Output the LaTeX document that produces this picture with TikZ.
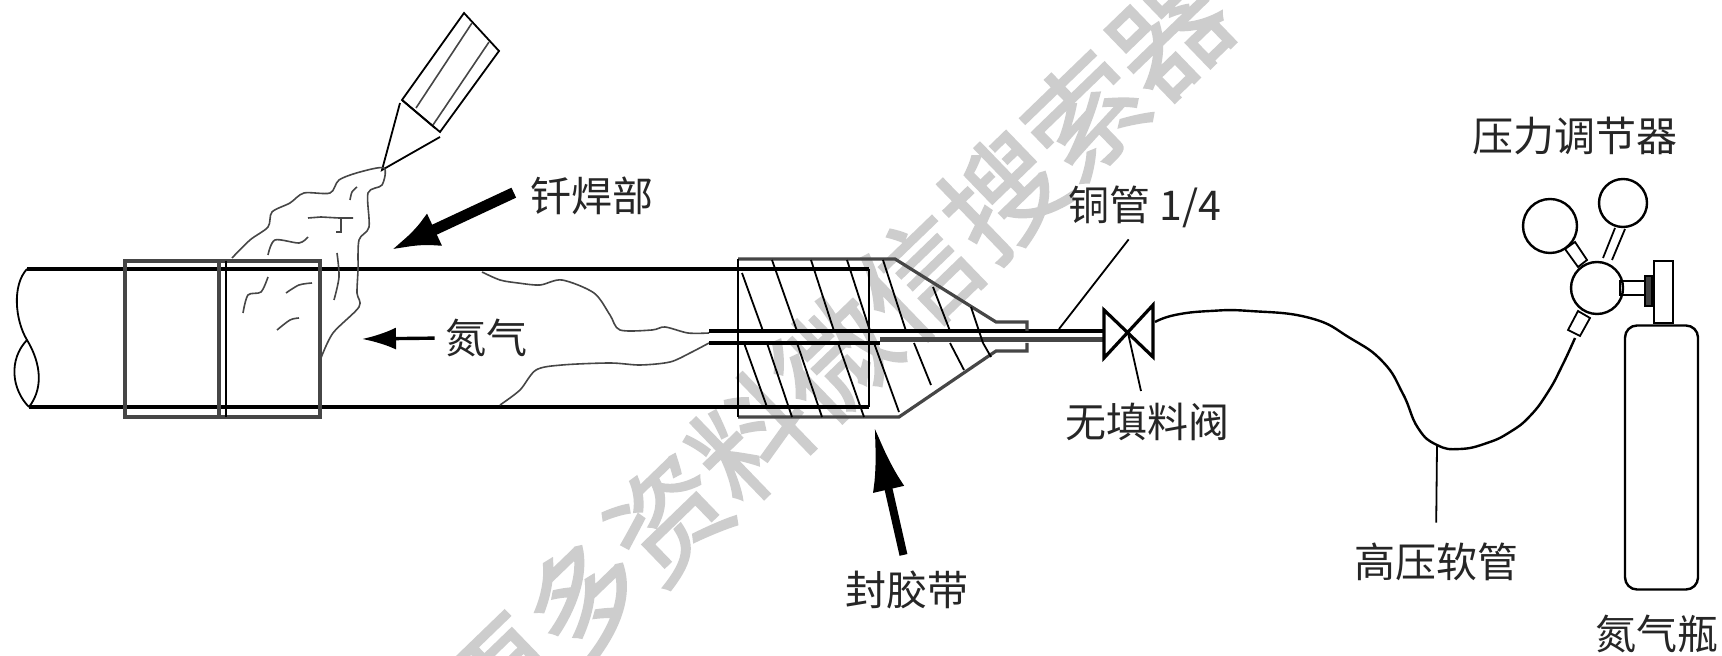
\documentclass[tikz,border=0pt]{standalone}
\usepackage{xcolor}
\usepackage{fontspec}
\usepackage{tikz}
\usetikzlibrary{arrows.meta}
\newfontfamily\cjk{Noto Sans CJK SC}
\newfontfamily\cjkheavy[FakeBold=1.6]{Noto Sans CJK SC}
\definecolor{markgray}{RGB}{205,205,205}
\definecolor{inkgray}{RGB}{70,70,70}
\tikzset{
  pipeline/.style={draw, line width=1.6pt, black},
  sleeveline/.style={draw, line width=1.6pt, inkgray},
  fineline/.style={draw, line width=0.9pt, black},
  solderline/.style={draw, line width=0.8pt, inkgray},
  bigarrow/.style={draw, line width=5.5pt, black, -{Latex[length=24pt,width=18pt]}},
  smallarrow/.style={draw, line width=1.7pt, black, -{Latex[length=17pt,width=11pt]}},
  note/.style={inner sep=0pt, text=black!85, font=\cjk\fontsize{20.5}{24}\selectfont},
  watermark/.style={inner sep=0pt, text=markgray, rotate=44, font=\cjkheavy\fontsize{58}{60}\selectfont},
  gauge/.style={draw, circle, line width=1.2pt, inner sep=0pt, minimum size=#1}
}
\begin{document}
\begin{tikzpicture}[x=0.5pt,y=-0.5pt]
\path[use as bounding box, fill=white] (0,0) rectangle (1722,656);
% watermark
\node[watermark] (mark) at (835,357) {更多资料微信搜索器};
% pipe and sleeve
\draw[pipeline] (27,269) -- (869,269);
\draw[pipeline] (29,407) -- (869,407);
\draw[fineline] (27,269) .. controls (12,285) and (15,320) .. (27,340) .. controls (38,358) and (46,385) .. (29,407);
\draw[fineline] (27,340) .. controls (8,360) and (12,390) .. (29,407);
\draw[sleeveline] (125,261) rectangle (320,417);
\draw[sleeveline] (219,261) -- (219,417);
\draw[fineline] (226,261) -- (226,417);
% torch
\draw[fineline] (464,13) -- (499,51) -- (440,132) -- (402,100) -- cycle;
\draw[solderline] (472,23) -- (416,108);
\draw[solderline] (489,42) -- (433,125);
\draw[fineline] (402,100) -- (435,128);
\draw[fineline] (400,103) -- (382,170) -- (440,137);
% solder run
\draw[solderline] plot[smooth] coordinates {(232,258) (250,240) (268,227) (272,212) (290,203) (304,193) (330,193) (339,180) (360,172) (384,168) (382,185) (368,193) (369,227) (359,240) (358,270) (357,293) (359,307) (333,333) (321,358)};
\draw[solderline] plot[smooth] coordinates {(350,200) (352,192) (357,187)};
\draw[solderline] (308,218) -- (321,217) -- (339,218) -- (353,218) (341,218) -- (341,232) -- (336,232);
\draw[solderline] plot[smooth] coordinates {(268,255) (275,240) (299,243) (308,237)};
\draw[solderline] plot[smooth] coordinates {(337,253) (339,277) (334,300)};
\draw[solderline] plot[smooth] coordinates {(268,277) (261,292) (248,295) (243,313)};
\draw[solderline] plot[smooth] coordinates {(286,293) (299,285) (312,283)};
\draw[solderline] plot[smooth] coordinates {(277,330) (290,320) (299,318)};
% gas stream
\draw[solderline] plot[smooth] coordinates {(482,272) (500,280) (518,283) (540,285) (562,280) (594,293) (610,315) (620,330) (652,330) (665,327) (688,333) (709,333)};
\draw[solderline] plot[smooth] coordinates {(500,405) (520,390) (536,370) (562,365) (610,363) (640,365) (670,362) (690,353) (709,343)};
% copper tube
\draw[draw=inkgray, line width=2.5pt] (880,340) -- (1103,340);
\draw[pipeline] (709,331) -- (1103,331);
\draw[pipeline] (709,343) -- (880,343);
% tape wrap
\draw[sleeveline] (738,259) -- (895,259) -- (996,322) -- (1027,322) -- (1027,331);
\draw[sleeveline] (738,417) -- (899,417) -- (996,351) -- (1027,351) -- (1027,343);
\draw[fineline] (738,259) -- (738,417);
\draw[fineline] (869,269) -- (869,407);
\draw[fineline] (742,273) -- (763,331) (772,260) -- (797,331) (811,260) -- (834,331) (847,260) -- (870,331) (883,260) -- (906,331) (933,287) -- (950,331) (971,307) -- (983,343);
\draw[fineline] (744,343) -- (767,407) (767,343) -- (792,417) (797,343) -- (822,417) (838,343) -- (864,417) (874,343) -- (899,412) (914,343) -- (931,385) (950,343) -- (964,370) (983,343) -- (991,357);
% valve
\coordinate (valvecore) at (1128,333);
\coordinate (valveport) at (1155,322);
\draw[pipeline] (1104,310) -- (1153,357) -- (1153,305) -- (1104,358) -- cycle;
% regulator and bottle
\node[gauge=26pt] (regulator) at (1597,288) {};
\node[gauge=27pt] (lowgauge) at (1550,226) {};
\node[gauge=24pt] (highgauge) at (1623,203) {};
\draw[fineline] (1565,249) -- (1578,267) -- (1587,260) -- (1575,242) -- cycle;
\draw[fineline] (1603,258) -- (1615,228) (1612,260) -- (1625,229);
\draw[fineline] (1578,311) -- (1590,318) -- (1580,336) -- (1568,330) -- cycle;
\draw[fineline] (1620,281) rectangle (1645,295);
\draw[fill=black!75, line width=0.6pt] (1645,276) rectangle (1652,306);
\node[draw, rectangle, line width=1.2pt, minimum width=9.5pt, minimum height=31pt, inner sep=0pt] (neck) at (1663.5,292) {};
\node[draw, rectangle, rounded corners=6pt, line width=1.2pt, minimum width=36.5pt, minimum height=132pt, inner sep=0pt] (bottle) at (1661.5,457.5) {};
% hose
\coordinate (hoselow) at (1437,445);
\draw[pipeline, line width=1.2pt] plot[smooth, tension=0.8] coordinates {(valveport) (1175,315) (1210,311) (1250,311) (1310,318) (1350,338) (1383,362) (1403,394) (1418,428) (hoselow) (1460,449) (1487,443) (1510,432) (1530,416) (1548,392) (1562,366) (1575,338)};
% labels
\node[note] (brazelabel) at (592,196) {钎焊部};
\node[note] (gaslabel) at (486,338) {氮气};
\node[note] (tapelabel) at (907,590) {封胶带};
\node[note] (copperlabel) at (1145,207) {铜管 1/4};
\node[note] (valvelabel) at (1147,422) {无填料阀};
\node[note] (hoselabel) at (1436,562) {高压软管};
\node[note] (reglabel) at (1575,136) {压力调节器};
\node[note] (bottlelabel) at (1657,634) {氮气瓶};
% arrows and leaders
\coordinate (brazetip) at (391,250);
\coordinate (gastip) at (362,339);
\coordinate (tapetip) at (874,425);
\coordinate (coppertap) at (1059,329);
\draw[bigarrow, shorten <=9pt] (brazelabel.170) -- (brazetip);
\draw[smallarrow, shorten <=5pt] (gaslabel.west) -- (gastip);
\draw[bigarrow, line width=4pt, shorten <=8pt, -{Latex[length=33pt,width=16pt]}] (tapelabel.north) -- (tapetip);
\draw[fineline, shorten <=7pt] (copperlabel.250) -- (coppertap);
\draw[fineline, shorten >=6pt] (valvecore) -- (valvelabel.100);
\draw[fineline, shorten >=10pt] (hoselow) -- (hoselabel.north);
\end{tikzpicture}
\end{document}
